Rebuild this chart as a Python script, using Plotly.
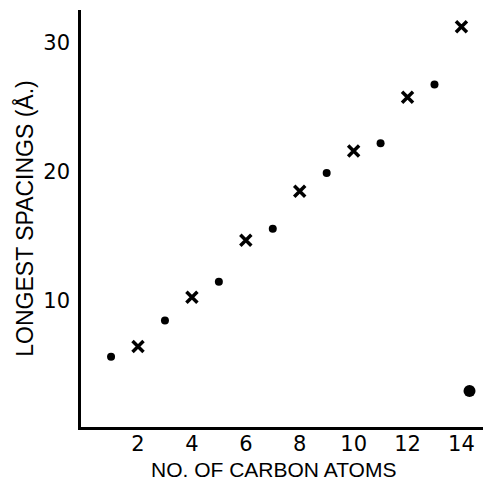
import plotly.graph_objects as go

# Data
odd_carbons = [1, 3, 5, 7, 9, 11, 13]
odd_spacings = [5.7, 8.5, 11.5, 15.6, 19.9, 22.2, 26.75]
even_carbons = [2, 4, 6, 8, 10, 12, 14]
even_spacings = [6.5, 10.3, 14.7, 18.5, 21.6, 25.75, 31.2]
extra_x = [14.3]
extra_y = [3.05]

x_ticks = [2, 4, 6, 8, 10, 12, 14]
y_ticks = [10, 20, 30]
x_title = "NO. OF CARBON ATOMS"
y_title = "LONGEST SPACINGS (Å.)"

fig = go.Figure()
fig.add_trace(go.Scatter(x=odd_carbons, y=odd_spacings, mode="markers",
                         marker=dict(symbol="circle", size=8, color="black"),
                         showlegend=False))
fig.add_trace(go.Scatter(x=even_carbons, y=even_spacings, mode="markers",
                         marker=dict(symbol="x-thin", size=11,
                                     line=dict(color="black", width=3.5)),
                         showlegend=False))
fig.add_trace(go.Scatter(x=extra_x, y=extra_y, mode="markers",
                         marker=dict(symbol="circle", size=12, color="black"),
                         showlegend=False))

fig.update_layout(
    width=483, height=484,
    margin=dict(l=81, r=0, t=10, b=57),
    paper_bgcolor="white", plot_bgcolor="white",
    font=dict(family="Liberation Sans", color="black"),
    xaxis=dict(range=[-0.115, 14.8], tickvals=x_ticks, ticktext=[str(v) for v in x_ticks],
               showgrid=False, zeroline=False, showline=True, linecolor="black",
               linewidth=2.5, ticks="", ticklabelstandoff=-4, automargin=False,
               tickfont=dict(size=21, family="DejaVu Sans")),
    yaxis=dict(range=[0.27, 32.5], tickvals=y_ticks, ticktext=[str(v) for v in y_ticks],
               showgrid=False, zeroline=False, showline=True, linecolor="black",
               linewidth=2.5, ticks="", ticklabelstandoff=4, automargin=False,
               tickfont=dict(size=21, family="DejaVu Sans"),
               title=dict(text=y_title,
                          font=dict(size=23, family="Liberation Sans"), standoff=4)),
)
fig.add_annotation(text=x_title, xref="paper", yref="paper", x=0.48, y=-0.102,
                   xanchor="center", yanchor="middle", showarrow=False,
                   font=dict(size=21, family="Liberation Sans", color="black"))
fig.write_html("out.html")
